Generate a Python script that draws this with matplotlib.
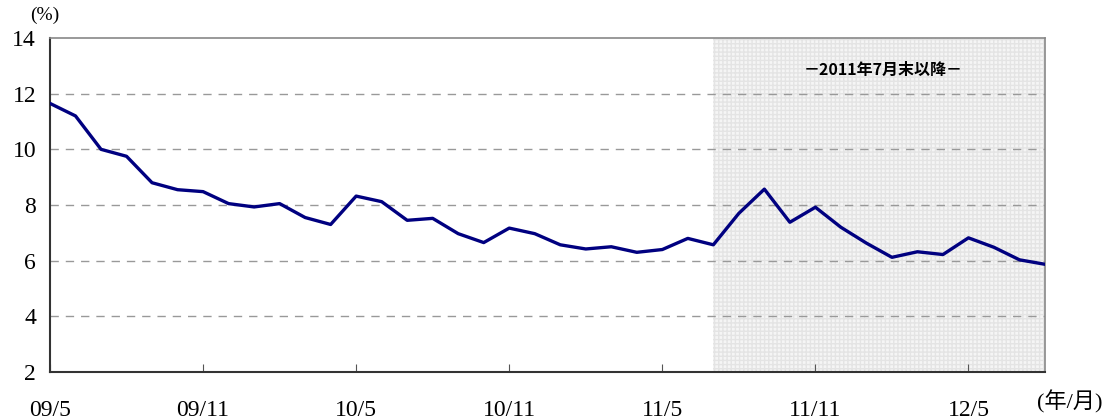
import matplotlib.pyplot as plt

# monthly values, 2009/5 .. 2012/8
months = list(range(40))
rate = [11.65, 11.2, 10.0, 9.75, 8.8, 8.55, 8.48, 8.05, 7.93, 8.05,
        7.55, 7.3, 8.32, 8.12, 7.45, 7.52, 6.97, 6.65, 7.17, 6.97,
        6.57, 6.42, 6.5, 6.3, 6.4, 6.8, 6.57, 7.7, 8.57, 7.38,
        7.92, 7.2, 6.63, 6.12, 6.32, 6.22, 6.82, 6.48, 6.03, 5.87]
tick_pos = [0, 6, 12, 18, 24, 30, 36]
tick_lab = ['09/5', '09/11', '10/5', '10/11', '11/5', '11/11', '12/5']
y_ticks = [2, 4, 6, 8, 10, 12, 14]
shade_start = 26

fonts = ['Liberation Serif', 'Noto Sans CJK JP']
plt.rcParams['font.family'] = fonts

fig = plt.figure(figsize=(11.05, 4.19), dpi=100)
ax = fig.add_axes([50/1105, 47/419, 995/1105, 334/419])

ax.axvspan(shade_start, months[-1], facecolor='#f5f5f5', edgecolor='#e4e4e4',
           hatch='++++', linewidth=0, zorder=0)

for y in y_ticks[1:-1]:
    ax.axhline(y, color='#999999', linestyle=(0, (6, 5)), linewidth=1, zorder=1)

ax.plot(months, rate, color='#000080', linewidth=2.4, zorder=3)

ax.set_xlim(0, months[-1])
ax.set_ylim(2, 14)
ax.set_yticks(y_ticks)
ax.set_yticklabels([str(v) for v in y_ticks], fontsize=17)
ax.set_xticks(tick_pos)
ax.set_xticklabels(tick_lab, fontsize=17)
ax.tick_params(axis='x', direction='in', length=6, pad=20, color='#555555')
ax.tick_params(axis='y', length=0, pad=10)

for s in ['left', 'bottom']:
    ax.spines[s].set_color('#333333')
    ax.spines[s].set_linewidth(1.5)
for s in ['top', 'right']:
    ax.spines[s].set_color('#888888')
    ax.spines[s].set_linewidth(1.2)

ax.text(0.837, 0.905, '－2011年7月末以降－', transform=ax.transAxes,
        ha='center', va='center', fontsize=11.5, fontweight='bold',
        family=['Noto Sans CJK JP'])
fig.text(30/1105, 1 - 15/419, '(%)', ha='left', va='center', fontsize=14)
fig.text(1102/1105, 1 - 402/419, '(年/月)', ha='right', va='center',
         fontsize=16, family=fonts)

fig.savefig('out.png', dpi=100)
